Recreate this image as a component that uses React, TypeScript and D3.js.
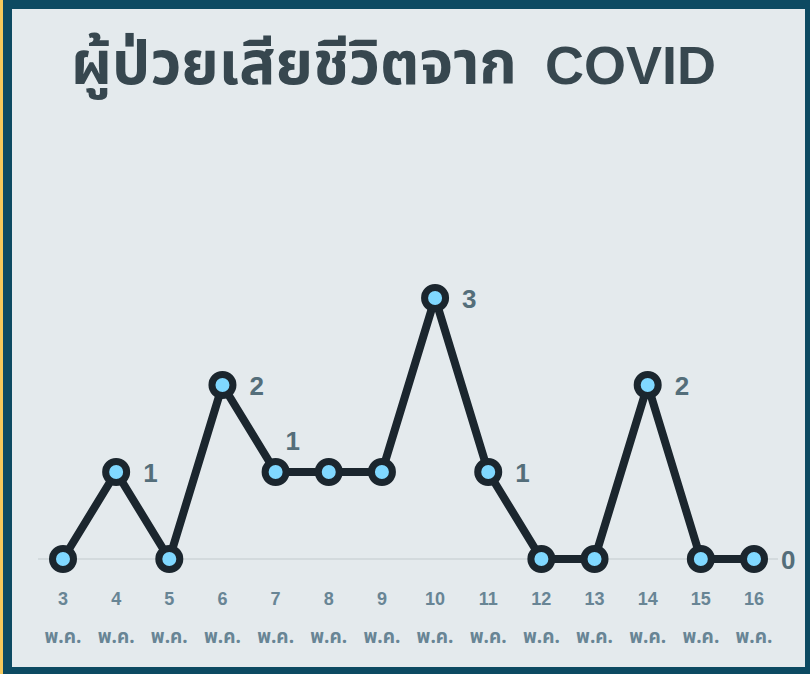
import React, { useEffect, useRef } from 'react';
import * as d3 from 'd3';

const days = [3, 4, 5, 6, 7, 8, 9, 10, 11, 12, 13, 14, 15, 16];
const deaths = [0, 1, 0, 2, 1, 1, 1, 3, 1, 0, 0, 2, 0, 0];
// which points get a number, and where it sits
const labelled = [4, 6, 7, 10, 11, 14, 16];
const monthLabel = 'พ.ค.';
const titleThai = 'ผู้ป่วยเสียชีวิตจาก';
const titleLatin = 'COVID';

const W = 810;
const H = 674;
const FONT = '"Liberation Sans", Arial, sans-serif';
const THAI = '"Noto Sans Thai", "Noto Sans", sans-serif';

function App() {
    const ref = useRef<SVGSVGElement>(null);

    useEffect(() => {
        const svg = d3.select(ref.current);
        svg.selectAll('*').remove();

        // frame
        svg.append('rect').attr('x', 0).attr('y', 0).attr('width', W).attr('height', H).attr('fill', '#f5c95c');
        svg.append('rect').attr('x', 3).attr('y', 0).attr('width', W - 3).attr('height', H).attr('fill', '#0d4a62');
        svg.append('rect').attr('x', 12).attr('y', 9).attr('width', 793).attr('height', 658).attr('fill', '#e4eaed');

        // title, thai part and latin part set separately
        svg.append('text')
            .attr('x', 71)
            .attr('y', 84)
            .attr('font-family', THAI)
            .attr('font-weight', 700)
            .attr('font-size', 60)
            .attr('fill', '#37474f')
            .attr('textLength', 446)
            .attr('lengthAdjust', 'spacingAndGlyphs')
            .text(titleThai);
        svg.append('text')
            .attr('x', 545)
            .attr('y', 84)
            .attr('font-family', FONT)
            .attr('font-weight', 700)
            .attr('font-size', 54)
            .attr('fill', '#37474f')
            .text(titleLatin);

        const x = d3.scalePoint<number>().domain(days).range([63, 754]);
        const y = d3.scaleLinear().domain([0, 3]).range([559, 298]);

        const data = days.map((d, i) => ({ day: d, value: deaths[i] }));

        // baseline
        svg.append('line')
            .attr('x1', 38).attr('x2', 778)
            .attr('y1', y(0)).attr('y2', y(0))
            .attr('stroke', '#d3dadd')
            .attr('stroke-width', 2);

        const axis = svg.append('g').attr('font-weight', 700).attr('fill', '#688595').attr('text-anchor', 'middle');
        axis.selectAll('.day').data(days).enter().append('text')
            .attr('x', d => x(d)!)
            .attr('y', 605)
            .attr('font-family', FONT)
            .attr('font-size', 18)
            .text(d => d);
        axis.selectAll('.month').data(days).enter().append('text')
            .attr('x', d => x(d)!)
            .attr('y', 643)
            .attr('font-family', THAI)
            .attr('font-size', 19)
            .text(monthLabel);

        const line = d3.line<{ day: number; value: number }>()
            .x(d => x(d.day)!)
            .y(d => y(d.value));

        svg.append('path')
            .attr('d', line(data))
            .attr('fill', 'none')
            .attr('stroke', '#1b262e')
            .attr('stroke-width', 8)
            .attr('stroke-linejoin', 'round');

        svg.selectAll('.dot').data(data).enter().append('circle')
            .attr('cx', d => x(d.day)!)
            .attr('cy', d => y(d.value))
            .attr('r', 10.5)
            .attr('fill', '#80d8ff')
            .attr('stroke', '#1b262e')
            .attr('stroke-width', 7);

        svg.selectAll('.val').data(data.filter(d => labelled.includes(d.day))).enter().append('text')
            .attr('x', d => x(d.day)! + (d.day === 7 ? 10 : 27))
            .attr('y', d => y(d.value) + (d.day === 7 ? -22 : 10))
            .attr('font-family', FONT)
            .attr('font-weight', 700)
            .attr('font-size', 26)
            .attr('fill', '#546e7a')
            .text(d => d.value);
    }, []);

    return <svg ref={ref} width={W} height={H} style={{ position: 'absolute', left: 0, top: 0 }}></svg>;
}

export default App;
